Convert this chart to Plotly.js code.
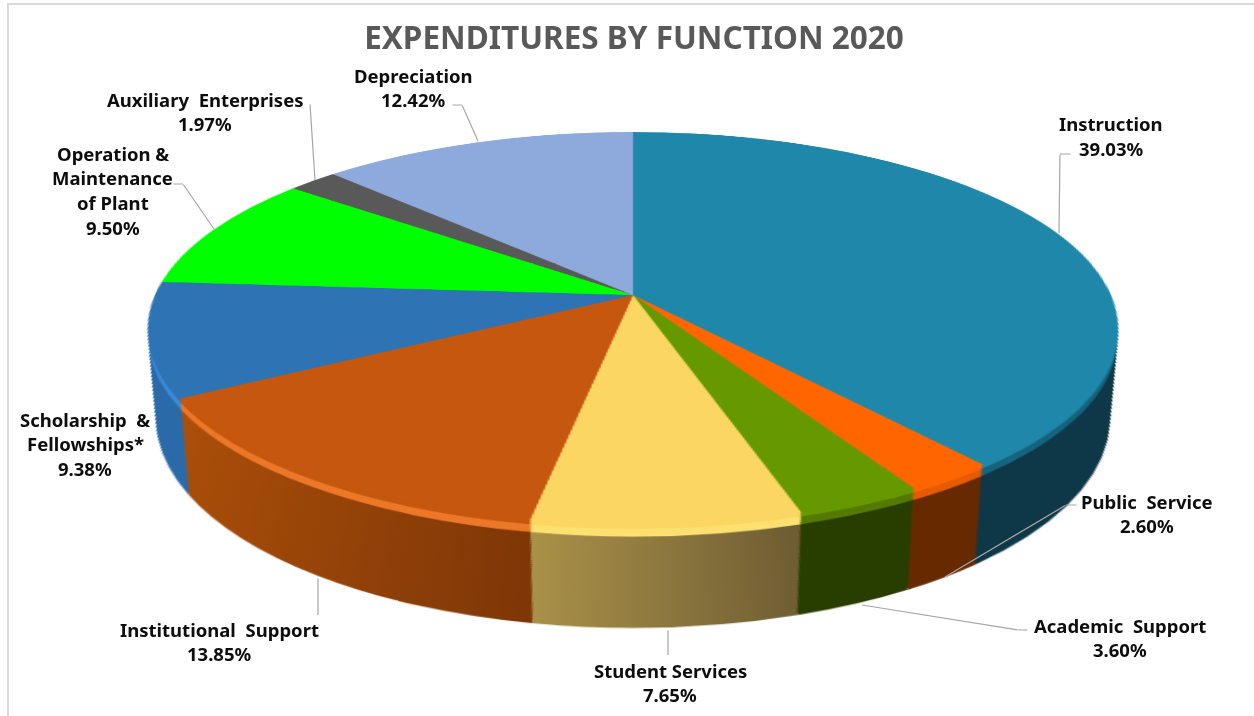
<!DOCTYPE html>
<html><head><meta charset="utf-8">
<script src="https://cdn.plot.ly/plotly-3.0.1.min.js"></script>
<style>
html,body{margin:0;padding:0;background:#fff;overflow:hidden}
#chart{position:absolute;left:0;top:0;width:1254px;height:716px}
#frame{position:absolute;left:7px;top:3px;width:1247px;height:713px;border-left:2px solid #d9d9d9;border-top:2px solid #d9d9d9;box-sizing:border-box}
</style></head><body>
<div id="frame"></div>
<div id="chart"></div>
<script>
const categories=['Instruction','Public Service','Academic Support','Student Services','Institutional Support','Scholarship & Fellowships*','Operation & Maintenance of Plant','Auxiliary Enterprises','Depreciation'];
const values=[39.03,2.60,3.60,7.65,13.85,9.38,9.50,1.97,12.42];
const topColors=['#1f88aa','#ff6600','#669900','#fbd662','#c5570f','#2e74b5','#00ff00','#595959','#8ea9db'];
const rimColors=['#17647f','#e65c02','#557a00','#fde070','#ec7828','#3a8ddc','#00dd00','#505050','#8ea9db'];
const sideLeft=['#0e3748','#672a00','#283d00','#ab9249','#ad5009','#2a6aa8','#00a000','#404040','#6f88b0'];
const sideRight=['#0e3748','#672a00','#283d00','#6c5b32','#7f3707','#2a6aa8','#00a000','#404040','#6f88b0'];
const labelLines=[['Instruction'],['Public  Service'],['Academic  Support'],['Student Services'],['Institutional  Support'],['Scholarship  &','Fellowships*'],['Operation &','Maintenance','of Plant'],['Auxiliary  Enterprises'],['Depreciation']];
const labelX=[1111,1147,1120,670,219,85,113,205,413];
const labelY=[124,501,625,670,629,419,153,99,75];
const leaders=[[[1060,154,1059,233],[1071,154,1060,154]],[[1077,505,1066,505],[1066,505,945,577]],[[1028,630,1018,630],[1018,630,862,605]],[[668,630,668,655]],[[318,578,318,615]],[],[[173,184,183,184],[183,184,214,229]],[[310,104,315,180]],[[452,105,462,105],[462,105,478,141]]];

const R=300,SX=627,SY=306,W=1254,H=716;
const TARGET_X=633,TARGET_Y=295,SKEW=-0.1705,AY=190.8,CX=478;
const LAYERS=50,RIM=6,RIM_START=3,SHIFT=0.435,GROW=-0.09;

const traces=[];
for(let i=LAYERS;i>=0;i--){
  const f=i/LAYERS,r=R*(1+GROW*f),cy=SY+R*SHIFT*f;
  traces.push({type:'pie',labels:categories,values:values,sort:false,direction:'clockwise',rotation:0,
    textinfo:'none',hoverinfo:'skip',showlegend:false,
    marker:{colors:(i>=RIM_START&&i<=RIM)?rimColors:topColors,line:{width:0}},
    domain:{x:[(SX-r)/W,(SX+r)/W],y:[1-(cy+r)/H,1-(cy-r)/H]}});
}
const px=x=>x/W,py=y=>1-y/H;
const annotations=[];
const font={family:'"Noto Sans",sans-serif',size:18.5,color:'#0d0d0d',weight:700};
categories.forEach((c,i)=>{
  const lines=labelLines[i].concat([values[i].toFixed(2)+'%']);
  lines.forEach((t,j)=>annotations.push({xref:'paper',yref:'paper',x:px(labelX[i]),y:py(labelY[i]+j*24.7),text:'<b>'+t.replace(/  /g,'&nbsp; ')+'</b>',showarrow:false,xanchor:'center',yanchor:'middle',font:font}));
  leaders[i].forEach(s=>annotations.push({xref:'paper',yref:'paper',x:px(s[2]),y:py(s[3]),ax:s[0]-s[2],ay:s[1]-s[3],text:' ',width:1,height:1,borderpad:0,borderwidth:0,showarrow:true,arrowhead:0,arrowwidth:1.2,arrowcolor:'#a6a6a6',standoff:0,startstandoff:0,font:{size:1}}));
});
const layout={width:W,height:H,margin:{l:0,r:0,t:0,b:0,pad:0},paper_bgcolor:'rgba(0,0,0,0)',plot_bgcolor:'rgba(0,0,0,0)',showlegend:false,
  title:{text:'<b>EXPENDITURES BY FUNCTION 2020</b>',x:634/W,xanchor:'center',y:1-38/H,yanchor:'middle',font:{family:'"Noto Sans",sans-serif',size:31.5,color:'#595959',weight:700}},
  annotations:annotations};
Plotly.newPlot('chart',traces,layout,{displayModeBar:false,staticPlot:true}).then(()=>{
  const svg=document.querySelector('#chart .main-svg');
  const NS='http://www.w3.org/2000/svg';
  const defs=svg.querySelector('defs')||svg.insertBefore(document.createElementNS(NS,'defs'),svg.firstChild);
  const total=values.reduce((a,b)=>a+b,0);
  let acc=0;
  const ends=values.map(v=>{const a=acc;acc+=v;return [a/total*2*Math.PI,acc/total*2*Math.PI];});
  categories.forEach((c,k)=>{
    const xs=[SX+Math.sin(ends[k][0])*R,SX+Math.sin(ends[k][1])*R];
    const g=document.createElementNS(NS,'linearGradient');
    g.setAttribute('id','side'+k);g.setAttribute('gradientUnits','userSpaceOnUse');
    g.setAttribute('x1',Math.min(xs[0],xs[1]));g.setAttribute('x2',Math.max(xs[0],xs[1]));g.setAttribute('y1',0);g.setAttribute('y2',0);
    [[0,sideLeft[k]],[1,sideRight[k]]].forEach(s=>{const st=document.createElementNS(NS,'stop');st.setAttribute('offset',s[0]);st.setAttribute('stop-color',s[1]);g.appendChild(st);});
    defs.appendChild(g);
  });
  const tr=document.querySelectorAll('#chart .pielayer .trace');
  tr.forEach((t,idx)=>{
    const layer=LAYERS-idx;
    if(layer<=RIM) return;
    t.querySelectorAll('.slice path.surface').forEach((p,k)=>{p.style.fill='url(#side'+k+')';});
  });
  const b=SKEW/R,c=CX/R,a=AY/R,w0=1-b*SY;
  const m=[c,0,0,0, TARGET_X*b,a+TARGET_Y*b,0,b, 0,0,1,0, -c*SX+TARGET_X*w0,-a*SY+TARGET_Y*w0,0,w0];
  svg.style.transformOrigin='0 0';
  svg.style.transform='matrix3d('+m.join(',')+')';
});
</script>
</body></html>
